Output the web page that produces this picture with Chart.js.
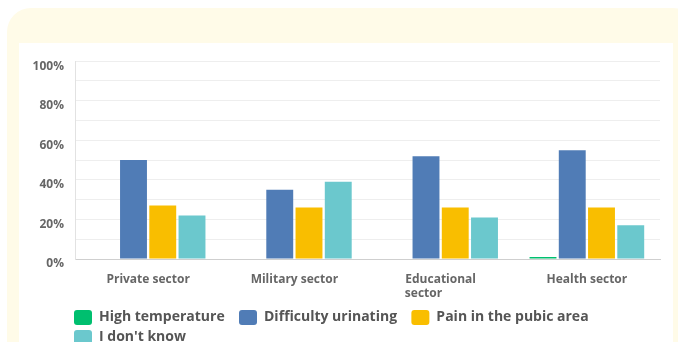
<!DOCTYPE html>
<html>
<head>
<meta charset="utf-8">
<script src="https://cdn.jsdelivr.net/npm/chart.js@4"></script>
<style>
  html, body { margin: 0; padding: 0; }
  body { width: 678px; height: 342px; overflow: hidden; background: #ffffff; position: relative; }
  .backdrop { position: absolute; left: 7px; top: 8px; width: 690px; height: 420px; border-radius: 24px; background: #fffbe8; }
  .card { position: absolute; left: 19px; top: 43px; width: 654px; height: 340px; background: #ffffff; }
  canvas { display: block; }
</style>
</head>
<body>
<div class="backdrop"></div>
<div class="card"><canvas id="chart" width="654" height="320"></canvas></div>
<script>
// Sectors surveyed and the share of respondents choosing each symptom (%)
const categories = [['Private sector'], ['Military sector'], ['Educational', 'sector'], ['Health sector']];
const seriesNames = ['High temperature', 'Difficulty urinating', 'Pain in the pubic area', "I don't know"];
const highTemperature = [0, 0, 0, 1];
const difficultyUrinating = [50, 35, 52, 55];
const painPubicArea = [27, 26, 26, 26];
const dontKnow = [22, 39, 21, 17];
const yTickValues = [0, 20, 40, 60, 80, 100];

const colors = ['#00bf6f', '#507cb6', '#f9be00', '#6bc8cd'];
const fontFamily = '"Open Sans", Lato, sans-serif';
const tickFont = { family: fontFamily, size: 12, weight: 'bold' };

// Multi-line labels: pad the shorter lines so each block reads left-aligned
const measureCtx = document.createElement('canvas').getContext('2d');
measureCtx.font = 'bold 12px ' + fontFamily;
function padLines(lines) {
  if (lines.length < 2) return lines[0];
  const widest = Math.max(...lines.map(l => measureCtx.measureText(l).width));
  return lines.map(l => {
    let s = l;
    while (measureCtx.measureText(s + ' ').width <= widest + 1) s += ' ';
    return s;
  });
}

// Line the legend up with the value axis instead of the canvas edge
const legendInset = {
  id: 'legendInset',
  afterLayout(chart) {
    if (chart.legend) chart.legend.left = chart.chartArea.left - 6;
  }
};

const seriesValues = [highTemperature, difficultyUrinating, painPubicArea, dontKnow];

new Chart(document.getElementById('chart'), {
  type: 'bar',
  data: {
    labels: categories.map(padLines),
    datasets: seriesNames.map((name, i) => ({
      label: name,
      data: seriesValues[i],
      backgroundColor: colors[i],
      borderWidth: 0,
      categoryPercentage: 0.8,
      barPercentage: 0.92
    }))
  },
  plugins: [legendInset],
  options: {
    responsive: false,
    animation: false,
    devicePixelRatio: 1,
    layout: { padding: { left: 6, right: 13, top: 15, bottom: 8 } },
    plugins: {
      tooltip: { enabled: false },
      legend: {
        position: 'bottom',
        align: 'start',
        labels: {
          boxWidth: 18,
          boxHeight: 15,
          padding: 5,
          useBorderRadius: true,
          borderRadius: 3,
          color: '#555555',
          font: { family: fontFamily, size: 14, weight: 'bold' },
          generateLabels(chart) {
            const items = Chart.defaults.plugins.legend.labels.generateLabels(chart);
            items.forEach(it => { it.text = it.text + '\u2002\u2009'; it.lineWidth = 0; });
            return items;
          }
        }
      }
    },
    scales: {
      x: {
        grid: { display: false, drawTicks: false },
        border: { color: '#cfcfcf', width: 1 },
        ticks: { color: '#666666', font: tickFont, padding: 13, maxRotation: 0, autoSkip: false },
        afterFit(scale) { scale.height = 46; }
      },
      y: {
        min: 0,
        max: 100,
        grid: {
          drawTicks: false,
          color: ctx => (ctx.tick && ctx.tick.value === 0) ? 'rgba(0,0,0,0)' : '#eeeeee'
        },
        border: { color: '#e2e2e2', width: 1 },
        ticks: {
          stepSize: 10,
          padding: 11,
          labelOffset: 5,
          color: '#666666',
          font: tickFont,
          callback: v => yTickValues.includes(v) ? v + '%' : ''
        },
        afterFit(scale) { scale.width = 50; }
      }
    }
  }
});
</script>
</body>
</html>
